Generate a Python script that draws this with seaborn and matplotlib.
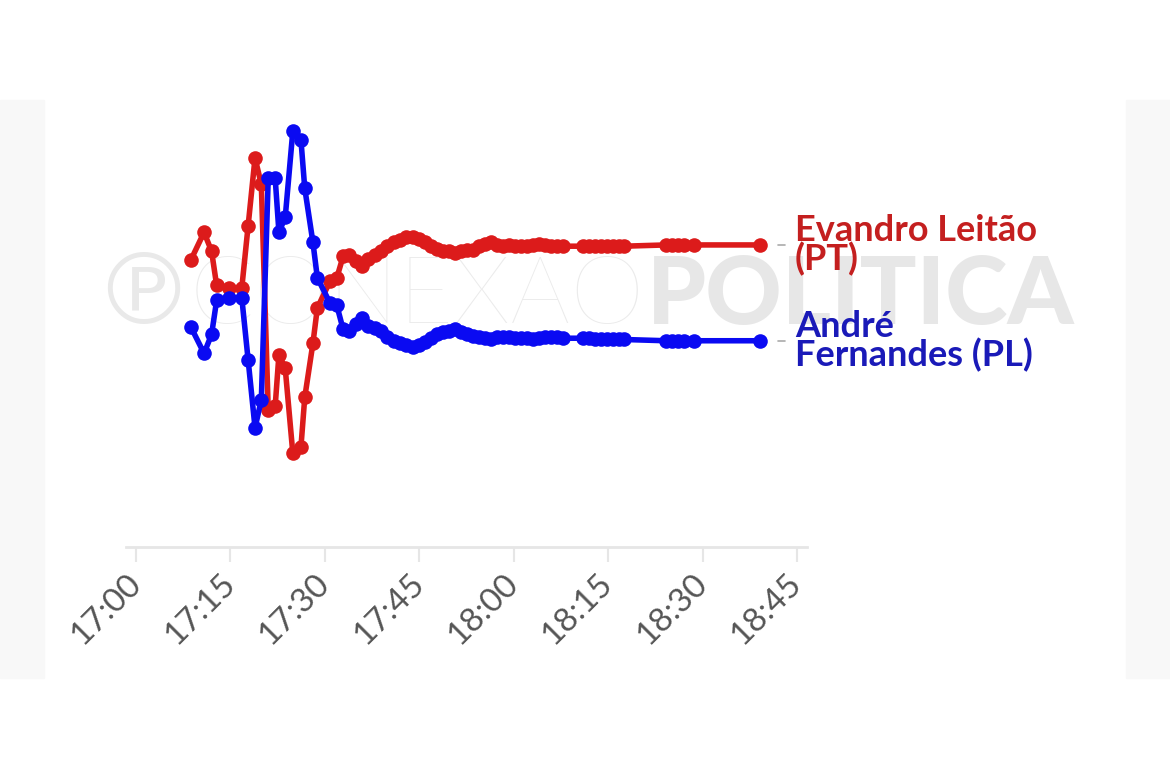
import matplotlib
matplotlib.use("Agg")
import matplotlib.pyplot as plt
import pandas as pd
import seaborn as sns
from matplotlib.patches import Rectangle

# ---- data (minutes after 17:00, % of valid votes) ----
minutes = [8.7, 10.8, 12.0, 12.8, 14.8, 16.8, 17.8, 18.9, 19.9, 21.0, 22.1, 22.7, 23.7, 24.9, 26.2, 26.8, 28.1, 28.8,
           30.8, 31.9, 32.9, 33.8, 35.0, 35.9, 36.9, 38.0, 38.9, 39.9, 41.0, 41.9, 42.9, 44.0, 45.0, 45.9, 46.9, 47.8,
           48.8, 49.7, 50.7, 51.6, 52.6, 53.5, 54.5, 55.4, 56.4, 57.4, 58.3, 59.3, 60.2, 61.2, 62.1, 63.1, 64.0, 65.0,
           65.9, 66.9, 67.8,
           71.0, 72.0, 72.9, 73.9, 74.8, 75.8, 76.7, 77.5,
           84.2, 85.2, 86.1, 87.1, 88.6,
           99.1]
evandro = [50.26, 50.48, 50.33, 50.06, 50.04, 50.04, 50.53, 51.07, 50.86, 49.07, 49.10, 49.51, 49.40, 48.73, 48.78, 49.17, 49.60, 49.88,
           50.09, 50.12, 50.29, 50.30, 50.25, 50.21, 50.27, 50.30, 50.33, 50.37, 50.40, 50.42, 50.44, 50.44, 50.43, 50.40, 50.37, 50.35,
           50.33, 50.33, 50.32, 50.33, 50.34, 50.34, 50.37, 50.39, 50.40, 50.38, 50.37, 50.38, 50.37, 50.37, 50.37, 50.38, 50.39, 50.38,
           50.37, 50.37, 50.37,
           50.37, 50.37, 50.37, 50.37, 50.37, 50.37, 50.37, 50.37,
           50.38, 50.38, 50.38, 50.38, 50.38,
           50.38]
andre = [49.73, 49.52, 49.67, 49.94, 49.96, 49.96, 49.47, 48.93, 49.15, 50.91, 50.91, 50.48, 50.60, 51.28, 51.21, 50.83, 50.40, 50.12,
         49.92, 49.90, 49.71, 49.70, 49.75, 49.80, 49.74, 49.72, 49.70, 49.65, 49.62, 49.60, 49.59, 49.57, 49.59, 49.61, 49.64, 49.67,
         49.69, 49.70, 49.71, 49.69, 49.67, 49.66, 49.65, 49.64, 49.63, 49.65, 49.65, 49.65, 49.64, 49.64, 49.64, 49.63, 49.64, 49.65,
         49.65, 49.65, 49.64,
         49.64, 49.64, 49.63, 49.63, 49.63, 49.63, 49.63, 49.63,
         49.62, 49.62, 49.62, 49.62, 49.62,
         49.62]
tick_minutes = [0, 15, 30, 45, 60, 75, 90, 105]
tick_labels = ["17:00", "17:15", "17:30", "17:45", "18:00", "18:15", "18:30", "18:45"]
names = ["Evandro Leitão\n(PT)", "André\nFernandes (PL)"]
line_colors = ["#dc1b1b", "#0a0af2"]
text_colors = ["#c41f1f", "#1a1ab8"]

sns.set_theme(style="white")
plt.rcParams['font.family'] = ['Lato', 'DejaVu Sans']

df = pd.DataFrame({
    "min": minutes * 2,
    "pct": evandro + andre,
    "cand": [names[0]] * len(minutes) + [names[1]] * len(minutes),
})

W, H = 1170, 780
fig = plt.figure(figsize=(W / 100, H / 100), dpi=100)
fig.patch.set_facecolor("white")
for x0, x1 in [(0, 44), (1126, 1170)]:
    fig.patches.append(Rectangle((x0 / W, 1 - 678 / H), (x1 - x0) / W, 578 / H,
                                 transform=fig.transFigure, color="#f8f8f8", zorder=0))

ax = fig.add_axes([126 / W, 1 - 547 / H, (807 - 126) / W, (547 - 105) / H])
ax.patch.set_alpha(0)

# watermark
ax.text(143 / W, 1 - 297 / H, "℗", transform=fig.transFigure, fontsize=72, color="#e9e9e9",
        family="DejaVu Sans", ha="center", va="center", zorder=0.5)
ax.text(190 / W, 1 - 297 / H, "CONEXÃO", transform=fig.transFigure, fontsize=68, color="#ebebeb",
        weight="light", ha="left", va="center", zorder=0.5)
ax.text(1075 / W, 1 - 297 / H, "POLITICA", transform=fig.transFigure, fontsize=68, color="#e7e7e7",
        weight="black", ha="right", va="center", zorder=0.5)

sns.lineplot(data=df, x="min", y="pct", hue="cand", hue_order=names, palette=line_colors,
             marker="o", markersize=10.5, markeredgewidth=0, linewidth=4, legend=False, ax=ax)

ax.set_xlim(-1.6, 106.6)
ax.set_ylim(47.984, 51.49)
ax.set_xticks(tick_minutes)
ax.set_xticklabels(tick_labels, rotation=45, ha="right", va="center", rotation_mode="anchor",
                   fontsize=24, color="#555555", weight="normal")
ax.set_yticks([])
ax.set_xlabel("")
ax.set_ylabel("")
for s in ["top", "right", "left"]:
    ax.spines[s].set_visible(False)
ax.spines["bottom"].set_color("#e6e6e6")
ax.spines["bottom"].set_linewidth(2)
ax.tick_params(axis="x", length=11, width=1.5, color="#e6e6e6", pad=12, bottom=True)

# end labels
px_per_min = (807 - 126) / (106.6 + 1.6)
for series, name, tc in [(evandro, names[0], text_colors[0]), (andre, names[1], text_colors[1])]:
    t_end, v_end = minutes[-1], series[-1]
    ax.plot([t_end + 18 / px_per_min, t_end + 25 / px_per_min], [v_end, v_end], color="#aaaaaa",
            lw=1.2, clip_on=False)
    ax.annotate(name, xy=(t_end, v_end), xytext=(35, 0), textcoords="offset pixels",
                ha="left", va="center", fontsize=26, weight="bold", color=tc,
                linespacing=0.82, annotation_clip=False)

fig.savefig("out.png", dpi=100)
